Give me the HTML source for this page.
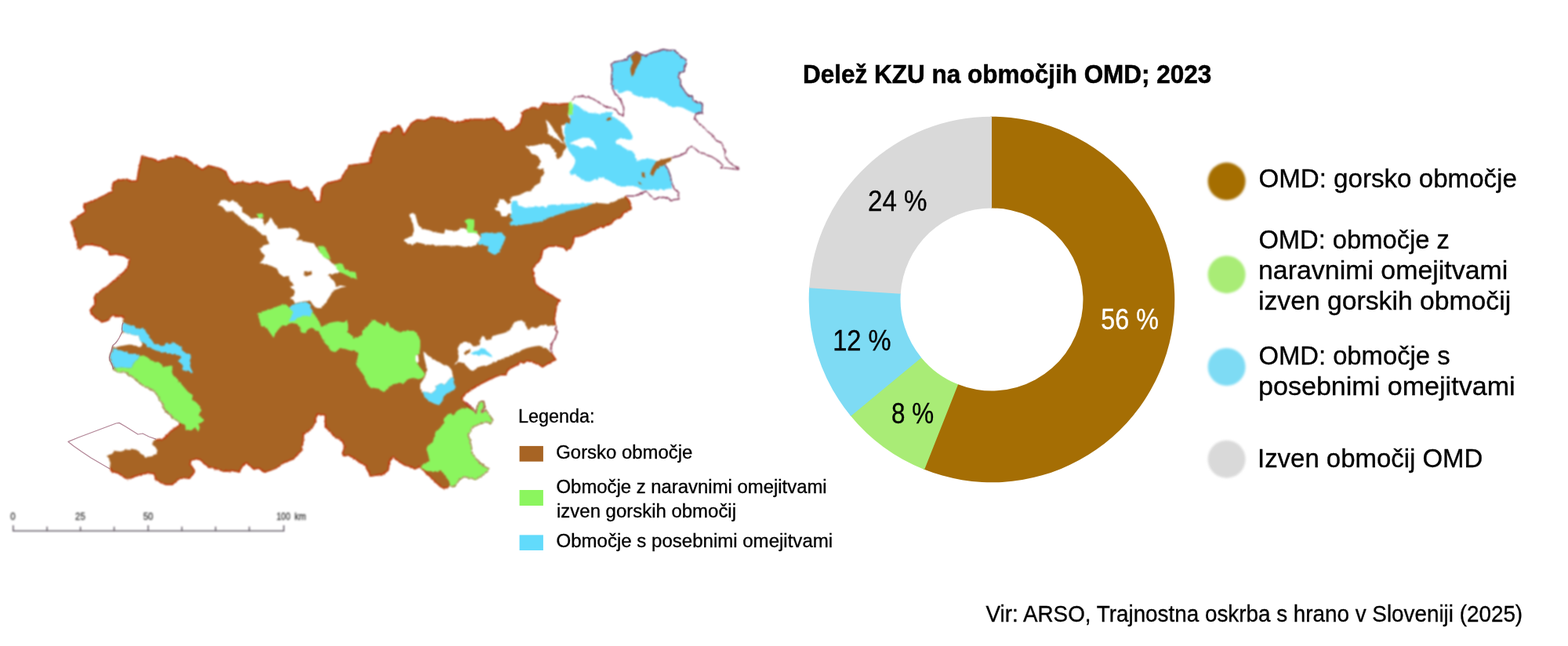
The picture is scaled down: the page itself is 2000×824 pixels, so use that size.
<!DOCTYPE html>
<html lang="sl">
<head>
<meta charset="utf-8">
<title>Delež KZU na območjih OMD; 2023</title>
<style>
html,body{margin:0;padding:0;background:#fff;}
body{width:2000px;height:824px;overflow:hidden;}
svg{display:block;font-family:"Liberation Sans",sans-serif;}
</style>
</head>
<body>
<svg width="2000" height="824" viewBox="0 0 2000 824">
<defs>
<clipPath id="bc"><path d="M89,283.6 100,275 108,270 106.4,259.6 118,256 130,250 142,244 144,232 152,229 162,227.6 166,230.4 174,230 176,218 178,208 180.6,198 190,201 198,202.4 202,205.6 210,202 226,199 236,201 248,209 258,215.6 266,210.4 280,214 288,218 293,228 298,234 308,231 318,234 328,231 340,235 356,231 370,230 373,238 384,242 391,237.6 398,244 403,256 408,256 410,240 416,233 434,229 439,220 445,210 444,210.4 456,209 471,207 474,194 478,184 483,172 488,167 498,169 500,163.6 509,159.6 513,164 515,171 520,164 524,157 532,152 542,153 550,148.6 568,150 574,154 584,155.6 600,151.6 620,151.6 631,150 635,154 641,158 644.4,165.6 654,164.4 662,158 665,150 664.4,143 672,139 679,136.4 687,138 692.4,130.4 704,132 724,131.6 727,130 726,140 725,149 728,152 727,158 720,158 716,161 717,168 719,176 721,184 723,188 719,192 717,198 712,203 710,202 709,194 706,190 700,184 690,184 680,186 670,186 675,191 678,196 686,199 689,205 688,212 684,214.4 692.4,215 694.4,221 690,226 689,233 682,237 678,242 670,245 662,249 652,251 650,256 652.4,258.4 648,260 642,254 637,255 635,262 631,267 638,270 640,276 646,276 649,272 656,272 670,270 690,268 710,266 730,264 750,261 757,259.4 764,259 776,260 784,257 792,253 798,250 802,254 805,260 806,267 802,269 796,272 792,278 784,281 780,286 772,289 764,291 756,294 748,299 740,302 733,302.4 732,310 728,317 722,321 719,316 710,314.4 700,315 693,319 691,328 688,334 683,338 680,344 682,352 683,360 687,366 694,370 700,374 708,378 715,383 714,383 711,390 709,400 708,408 709,415 710,426 708,432 704,438 703,444 704,450 710,459 706,461 700,464 692,469 686,465 678,462 672,461 668,464 664,462 660,466 654,469 648,473 646,479 638,479 630,482 624,485 618,488 610,492 604,496 598,500 592,505 590,508 593,513 598,516 602,520 607,526 609,518 612,512 617,512 618,518 615,526 620,523 624,529 629,536 626,540 620,538 614,540 610,542 604,544 601,550 597,554 599,560 601,568 602,576 606,584 612,590 618,595 624,598 620,603 614,608 608,611 600,610 592,608 586,612 582,618 578,621 574,620 572,622 566,623.6 561,621 556,616 550,610 543,604 538,598 536,596 529,599 524,596 516,594 508,589 501,584 497,590 496,600 490,605 480,607 472,608 469,602 466,595 460,591 452,586 444,581 438,583 436,578 439,570 436,563 428,558 420,551 414,544 414,530 405,529 402,541 396,549 388,553 387,565 385,575 380,581 372,587 362,591 354,597 344,601 337,603 330,598 323,599 319,595 314,591 308,597 306,603 296,601 286,602 276,599 268,597 260,592 255,587 250,586 244,588 243,592 247,597 249,602 245,607 242,611 234,610 226,613 220,619 212,619 204,616 199,613 196,605 190,604 180,606 170,609 163,612.6 156,608 150,604 142,602 140,598 141,589 138,585 136,581 143,579 146,575 154,576 160,574 168,572.6 175,574 180,578 186,583 194,582 199,579 201,575 198,570 194,567 196,562 200,560 208,559 214,553 220,547 228,542 230,539.4 222,534 214,527 208,520 208,516 204,510 200,503 194,497 184,493 176,487 168,480 160,475 152,475 144,471 144.5,471 143.5,467 142,463 140,460 139.5,456 140.5,452 142,448 143,444 144,440.5 147,438 149.5,435 152,431 154,427 156,423 155.5,420 156,415 157,411.5 158,407 156,404 150,404.5 145,403 142,404.5 140,408 136,410 130,411.5 125,408 120,404.5 116,400 114,395 118,391 121,384 120,376 126,372 134,366 142,360 150,353 158,346 163,339 164,331 158,327 148,325 140,326 137,320 128,315 118,313 108,313 102,319 98,316 98,308 94,300 95,300 92,288Z"/></clipPath>
<filter id="mb" x="-5%" y="-5%" width="110%" height="110%" color-interpolation-filters="sRGB"><feTurbulence type="fractalNoise" baseFrequency="0.22" numOctaves="2" seed="7" result="n"/><feDisplacementMap in="SourceGraphic" in2="n" scale="3" xChannelSelector="R" yChannelSelector="G" result="d"/><feGaussianBlur in="d" stdDeviation="0.85"/></filter>
<filter id="ob" x="-5%" y="-5%" width="110%" height="110%" color-interpolation-filters="sRGB"><feTurbulence type="fractalNoise" baseFrequency="0.22" numOctaves="2" seed="7" result="n"/><feDisplacementMap in="SourceGraphic" in2="n" scale="3" xChannelSelector="R" yChannelSelector="G" result="d"/><feGaussianBlur in="d" stdDeviation="0.88"/></filter>
<filter id="ob2" x="-5%" y="-5%" width="110%" height="110%"><feGaussianBlur stdDeviation="0.85"/></filter>
<filter id="cb" x="-20%" y="-20%" width="140%" height="140%"><feGaussianBlur stdDeviation="1.6"/></filter>
<filter id="sbb" filterUnits="userSpaceOnUse" x="0" y="640" width="420" height="50"><feGaussianBlur stdDeviation="0.85"/></filter>
</defs>
<rect width="2000" height="824" fill="#fff"/>
<g id="map" filter="url(#mb)" stroke-linejoin="round">
<path fill="#A76424" d="M89,283.6 100,275 108,270 106.4,259.6 118,256 130,250 142,244 144,232 152,229 162,227.6 166,230.4 174,230 176,218 178,208 180.6,198 190,201 198,202.4 202,205.6 210,202 226,199 236,201 248,209 258,215.6 266,210.4 280,214 288,218 293,228 298,234 308,231 318,234 328,231 340,235 356,231 370,230 373,238 384,242 391,237.6 398,244 403,256 408,256 410,240 416,233 434,229 439,220 445,210 444,210.4 456,209 471,207 474,194 478,184 483,172 488,167 498,169 500,163.6 509,159.6 513,164 515,171 520,164 524,157 532,152 542,153 550,148.6 568,150 574,154 584,155.6 600,151.6 620,151.6 631,150 635,154 641,158 644.4,165.6 654,164.4 662,158 665,150 664.4,143 672,139 679,136.4 687,138 692.4,130.4 704,132 724,131.6 727,130 726,140 725,149 728,152 727,158 720,158 716,161 717,168 719,176 721,184 723,188 719,192 717,198 712,203 710,202 709,194 706,190 700,184 690,184 680,186 670,186 675,191 678,196 686,199 689,205 688,212 684,214.4 692.4,215 694.4,221 690,226 689,233 682,237 678,242 670,245 662,249 652,251 650,256 652.4,258.4 648,260 642,254 637,255 635,262 631,267 638,270 640,276 646,276 649,272 656,272 670,270 690,268 710,266 730,264 750,261 757,259.4 764,259 776,260 784,257 792,253 798,250 802,254 805,260 806,267 802,269 796,272 792,278 784,281 780,286 772,289 764,291 756,294 748,299 740,302 733,302.4 732,310 728,317 722,321 719,316 710,314.4 700,315 693,319 691,328 688,334 683,338 680,344 682,352 683,360 687,366 694,370 700,374 708,378 715,383 714,383 711,390 709,400 708,408 709,415 710,426 708,432 704,438 703,444 704,450 710,459 706,461 700,464 692,469 686,465 678,462 672,461 668,464 664,462 660,466 654,469 648,473 646,479 638,479 630,482 624,485 618,488 610,492 604,496 598,500 592,505 590,508 593,513 598,516 602,520 607,526 609,518 612,512 617,512 618,518 615,526 620,523 624,529 629,536 626,540 620,538 614,540 610,542 604,544 601,550 597,554 599,560 601,568 602,576 606,584 612,590 618,595 624,598 620,603 614,608 608,611 600,610 592,608 586,612 582,618 578,621 574,620 572,622 566,623.6 561,621 556,616 550,610 543,604 538,598 536,596 529,599 524,596 516,594 508,589 501,584 497,590 496,600 490,605 480,607 472,608 469,602 466,595 460,591 452,586 444,581 438,583 436,578 439,570 436,563 428,558 420,551 414,544 414,530 405,529 402,541 396,549 388,553 387,565 385,575 380,581 372,587 362,591 354,597 344,601 337,603 330,598 323,599 319,595 314,591 308,597 306,603 296,601 286,602 276,599 268,597 260,592 255,587 250,586 244,588 243,592 247,597 249,602 245,607 242,611 234,610 226,613 220,619 212,619 204,616 199,613 196,605 190,604 180,606 170,609 163,612.6 156,608 150,604 142,602 140,598 141,589 138,585 136,581 143,579 146,575 154,576 160,574 168,572.6 175,574 180,578 186,583 194,582 199,579 201,575 198,570 194,567 196,562 200,560 208,559 214,553 220,547 228,542 230,539.4 222,534 214,527 208,520 208,516 204,510 200,503 194,497 184,493 176,487 168,480 160,475 152,475 144,471 144.5,471 143.5,467 142,463 140,460 139.5,456 140.5,452 142,448 143,444 144,440.5 147,438 149.5,435 152,431 154,427 156,423 155.5,420 156,415 157,411.5 158,407 156,404 150,404.5 145,403 142,404.5 140,408 136,410 130,411.5 125,408 120,404.5 116,400 114,395 118,391 121,384 120,376 126,372 134,366 142,360 150,353 158,346 163,339 164,331 158,327 148,325 140,326 137,320 128,315 118,313 108,313 102,319 98,316 98,308 94,300 95,300 92,288Z"/>
<path fill="none" stroke="#C0360C" stroke-width="3.4" clip-path="url(#bc)" d="M95,300 92,288 89,283.6 100,275 108,270 106.4,259.6 118,256 130,250 142,244 144,232 152,229 162,227.6 166,230.4 174,230 176,218 178,208 180.6,198 190,201 198,202.4 202,205.6 210,202 226,199 236,201 248,209 258,215.6 266,210.4 280,214 288,218 293,228 298,234 308,231 318,234 328,231 340,235 356,231 370,230 373,238 384,242 391,237.6 398,244 403,256 408,256 410,240 416,233 434,229 439,220 445,210 444,210.4 456,209 471,207 474,194 478,184 483,172 488,167 498,169 500,163.6 509,159.6 513,164 515,171 520,164 524,157 532,152 542,153 550,148.6 568,150 574,154 584,155.6 600,151.6 620,151.6 631,150 635,154 641,158 644.4,165.6 654,164.4 662,158 665,150 664.4,143 672,139 679,136.4 687,138 692.4,130.4 704,132 724,131.6 727,130 M798,250 802,254 805,260 806,267 802,269 796,272 792,278 784,281 780,286 772,289 764,291 756,294 748,299 740,302 733,302.4 732,310 728,317 722,321 719,316 710,314.4 700,315 693,319 691,328 688,334 683,338 680,344 682,352 683,360 687,366 694,370 700,374 708,378 715,383 714,383 711,390 709,400 708,408 709,415 M704,450 710,459 706,461 700,464 692,469 686,465 678,462 672,461 668,464 664,462 660,466 654,469 648,473 646,479 638,479 630,482 624,485 618,488 610,492 604,496 598,500 592,505 590,508 593,513 598,516 602,520 M572,622 566,623.6 561,621 556,616 550,610 543,604 538,598 536,596 529,599 524,596 516,594 508,589 501,584 497,590 496,600 490,605 480,607 472,608 469,602 466,595 460,591 452,586 444,581 438,583 436,578 439,570 436,563 428,558 420,551 414,544 414,530 405,529 402,541 396,549 388,553 387,565 385,575 380,581 372,587 362,591 354,597 344,601 337,603 330,598 323,599 319,595 314,591 308,597 306,603 296,601 286,602 276,599 268,597 260,592 255,587 250,586 244,588 243,592 247,597 249,602 245,607 242,611 234,610 226,613 220,619 212,619 204,616 199,613 196,605 190,604 180,606 170,609 163,612.6 156,608 150,604 142,602 140,598 M199,560.2 208,559 214,553 220,547 228,542 230,539.4 M158,407 156,404 150,404.5 145,403 142,404.5 140,408 136,410 130,411.5 125,408 120,404.5 116,400 114,395 118,391 121,384 120,376 126,372 134,366 142,360 150,353 158,346 163,339 164,331 158,327 148,325 140,326 137,320 128,315 118,313 108,313 102,319 98,316 98,308 94,300 95,300 92,288 89,283.6"/>
<path fill="#fff" d="M278,261 282,256 288,254 292,258 297,255 303,259 308,265 310,271 318,276 320,279 326,278 336,280 337,287 342,283 345,277 348,282 352,288 355,292 364,291 374,291 380,295 382,300 379,305 388,308 398,310 400,310 404,316 408,322 414,328 420,332 426,338 432,344 434,347 426,349 418,351 422,355 427,360 429,366 434,364 442,365.6 434,367 427,370 422,376 418,382 414,388 410,393 404,393 400,390 396,384 392,384 384,385 376,387 375,384 370,380 375,377 375.6,370 369,366 375,364 370,358 368,352 362,353 356,349 354,344 348,340 340,337 331,335.6 335,332 338,326 334,322 331,317 336,313 344,311 347,308 344,312 340,303 332,297 326,292 320,288 314,285 308,280 303,274 296,270 288,269 284,264Z M522,274 526,271 530,275 532,282 534,288 540,292 548,294 558,297 566,298 568,293 576,294 584,295 588,290 594,292 598,296 606,295 610,299 613,303 610,308 608,312 600,315 592,315 584,313 576,313.6 568,313 560,313.6 552,312.4 544,312 536,310 530,309 526,313 520,311 515,306 520,303 526,301 528,294 527,286 524,280Z M540,448 544,452 550,456 556,460 564,464 572,467 576,472 578,481 575,482 572,485 568,490 562,489 557,492 555,498 550,502 544,500 538,499.6 536,496 536,490 540,484 543,478 545,472 543,464 541,456Z M578,466 584,460 585,454 583,446 586,440 592,436 598,436 602,440 604,442 612,440 613,433 615,427 618,430 620,434 626,433 628,429 634,427 642,425 648,423 652,418 656,411 662,409 668,410 671,416 674,420 679,417 684,419 689,415 696,414 702,416 708,415 709,422 710,426 708,432 704,438 703,444 704,450 702,449 696,444 688,441 680,442 672,444 664,447 658,450 652,454 644,456 638,459 632,462 626,464 620,466 614,467 608,469 604,473 600,472 596,468 592,464 588,461 582,464Z M696,152.4 700,156 705,163 710,171 716,179 720.4,184.4 714,180 708,176 701,171.6 696.4,170.4 699.2,169 698,160Z M157,423.5 160,425 166,426.5 172,427.5 177,428 178,432 179,435 181,437.5 181,441 179,443 175,442 170,440 165,439.5 159,440.5 153,441.5 148,443.5 145,443 144,440.5 147,438 149.5,435 152,431 154,427Z"/>
<path fill="#8BF55E" d="M725.6,130 730,129.6 731,138 730,146 725.6,147 725,140Z M405,315 412,313 418,322 422,331 414,329 408,322Z M426,337 436,336 440,343 454,348 455,356 446,353 436,348 430,344Z M327,273 335,272 336,278 330,278Z M592,281 598,279 605,280 605,288 604,294 610,295 610,298 604,297 598,297 595,293 596,287Z M328,400 336,397 346,394 356,390 364,388 372,394 396,396 400,400 406,408 410,417 420,412 430,410 438,411 442,409 444,413 444,420 442,423 448,427 451,432 456,430 462,427 462,422 468,417 472,412 475,407.6 480,410 486,413 491,416 494,410 497,416 500,419 506,422 512,423 520,422 528,422 533,427 536,434 536,442 535,450 531,452 530,458 532,464 536,469 540,474 542,478 539,482 534,484 528,482 522,483 518,486 514,490 508,489 502,490 496,493 494,498 489,500 484,496 478,495 472,494 468,489 466,482 462,476 457,470 454,464 456,457 457,450 452,448 446,447 440,445 434,444 428,449 422,448 419,442 414,437 410,430 407,424 404,422 398,418 392,420 390,425 384,424 383,418 378,413 372,412 366,414 358,417 352,424 349,431 344,424 340,418 333,416 331,408Z M147,469.5 150,469 155,468.5 160,469 164,469.5 168,469 169,466 171,463 174,460 177,457 178,454 182,453.5 187,455 191,458 195,460.5 200,462 204,463 207,466 209,469 214,467 220,466 221,469 220,473 218,474 222,480 228,486 234,493 240,500 246,504 245,509 250,513 255,518 257,524 253,529 256,532 261,536 257,539 252,541 255,545 253,550 249,545 244,549 237,548 236,542 230,539.4 222,534 214,527 208,520 208,516 204,510 200,503 194,497 184,493 176,487 168,480 160,475 152,475 144,471 144.5,471Z M582,525 588,521 596,520 602,523 607,526 609,518 612,512 617,512 618,518 615,526 620,523 624,529 629,536 626,540 620,538 614,540 610,542 604,544 601,550 597,554 599,560 601,568 602,576 606,584 612,590 618,595 624,598 620,603 614,608 608,611 600,610 592,608 586,612 582,618 578,621 574,620 573,614 567,606 562,600 554,602 546,602 538,597 536,595 542,591 548,588 546,580 544,572 546,568 552,564 554,556 556,550 561,546 566,540 566,534 571,529 575,527 578,530 580,528Z"/>
<path fill="#fff" d="M530,454 533,451 534,458 533,464 530,460Z"/>
<path fill="#62DBFB" d="M780,82 784,79 792,77.6 800,76 802,72 808,68 812.4,66 818,70 824,71 832,67 840,65 846,63 854,64.4 860,64 865,69 870,73 875,76 875.6,81 873,85 873,91 867,93 865,98 868,102 868,109 872,114 875,119 879,123 883,122 884,128 890,131 896,132 895.6,144 888,145 886,144.4 882,143 876,140 870,137 864,136 858,137 852,133.6 846,130 840,127 832,124 824,125 816,124 810,121 805,117 800,115.6 794,118 789,119 788,115 783,114 781,112 780,100 781,88Z M731,132 738,135 744,140 752,144 764,145 776,143 782,143 780,148 788,152 798,160 804,168 807,174 806,178 798,178 792,176 786,179 785,182 792,186 800,191 808,193 810,200 812,205 820,203 830,202.4 837,205 848,210 852,216 855,224 857,234 857,240 852,241 844,242 836,242.4 828,242 820,243 814,239 806,237 798,238 790,238 784,235 778,231 770,227 764,226 762,230 758,229 752,232 746,231 740,227 734,223 729,222 726,220 730,215 733,210 734,204 730,198 726,193 723,188 721,180 719.6,172 720,164 722,156 727,158 728,152 725.6,147 730,146 731,138Z M654,256 660,257 662,262 670,265 680,264 690,263 696,265 700,261 710,261 724,260.4 734,260 746,259 756,259 756,260 748,263 740,266 730,268 720,270 718,272 708,275 700,278 692,282 680,285 670,286 660,288 652,287 649,284 655,281 651,276 653,270 651,264Z M613,298 620,296.4 630,297.6 640,297.6 645,302 643,309 640,314 638,320 632,325 626,323 622,320 623,315 618,313 610,312 609,309 613,304Z M370,390 378,387 390,385 396,388 398,396 396,404 388,402 380,406 374,410 369,409 372,402 374,398 370,394Z M157.5,412 160,411.5 163,414 168,415.5 173,417.5 178,419.5 182,419 185,421 187,424.5 189,427 190,430 193,433 195,436 197,438.5 202,440 207,441.5 210,440 212,438 216,439 219,437.5 222,436.5 225,439 228,440.5 231,442 232,446 235,449 239,451 243,452 243.5,456 242,460 243,464 242,467 244,471 246,475 245,476 242,474 239,472 236,473 233,472 234,468 232,465 229,462 226.5,460 229,458 231.5,456 230,454 225,452.5 220,452 214,451 208,449.5 202,448 197,446.5 193,444.5 189,442 186,439 182,437 179,435 178,432 177,428 172,427.5 166,426.5 160,425 157,423 155.5,420 156,415Z M144.5,444.5 148,445 152,446.5 158,448 164,450 168,451.5 172,451 176,452 178,454 177,457 174,460 171,463 169,466 168,469 164,469.5 160,469 155,468.5 150,469 147,469.5 144.5,467 143,463 141,460 140.5,456 141.5,452 143,448Z M578,481 580,488 581,495 576,499 570,502 566,506 564,512 560,517 554,515 548,512 543,508 540,503 538,499.6 544,500 550,502 555,498 557,492 562,489 568,490 572,485 575,482Z M600,451 608,447 614,444 619,445 622,449 627,453 628,456 623,454 618,452 612,453 606,453Z"/>
<path fill="#fff" d="M726,183 734,179 744,175.6 752,176 757,180 760,186 761,191 756,188 750,186 742,189 736,186 730,183.6Z"/>
<path fill="#A76424" d="M804,72 812,66 818,70 817.6,76 814,82 811,88 809,94 806,98 804.4,92 804,87 807,83 806,77Z M837,206 848,202.4 857,200.4 856,205 850,209 844,212 838,215 835,220 833,225 829,221 832,214 835,209Z M818.6,219.6 821.6,220.4 823.6,227 820.6,226 818.6,223Z M813.6,231.6 816.4,232.4 818.6,235.4 815.6,234.8Z M773.6,151 778,149.6 780,151.6 776,154 773.6,153.6Z M387,346.4 392,347.6 397,345.6 398,349.6 394,352.4 389,351.6Z M592,448.4 600,445 599.6,449 594.4,453 592,451.6Z"/>
</g>
<g id="outline" stroke-linejoin="round" fill="none">
<g filter="url(#ob)">
<path stroke="#7A2248" stroke-width="1.4" d="M729,128 734,124 742,122.4 750,123.6 758,127 764,131 770,135 776,137 782,137.6 786,140 789,145 795,148 795.6,138 793,130 789,124 784,119 781,112 780,100 781,88 779.4,82 784,79 792,77.6 800,76 802,72 808,68 812.4,66 818,70 824,71 832,67 840,65 846,63 854,64.4 860,64 865,69 870,73 875,76 875.6,81 873,85 873,91 867,93 865,98 868,102 868,109 872,114 875,119 879,123 883,122 884,128 890,131 896,132 895.6,144 888,145 886,150 890,156 896,161 902,167 908,172 913,179 920,182 923,188 925,196 925,199 928,205 934,210 942,214.4 943,216 936,215.6 928,214.4 920,214.4 921,210 916,205 908,200 902,198 898,195.6 892,194.4 887,190 883,186.4 878,189 874,195 866,199 858,201 857,201 M848,210 852,216 855,224 857,234 860,241 866,246 866,254 856,255 848,252 842,251 836,254 830,250 824,244 818,246 810,250 802,250 799,250"/>
<path stroke="#8E2A46" stroke-width="1.6" d="M709,415 710,426 708,432 704,438 703,444 704,450"/>
<path stroke="#A8303A" stroke-width="1.6" d="M593,513 598,516 602,520 607,526 609,518 612,512 617,512 618,518 615,526 620,523"/>
<path stroke="#A8704A" stroke-width="1.2" d="M602,520 607,526 609,518 612,512 617,512 618,518 615,526 620,523 624,529 629,536 626,540 620,538 614,540 610,542 604,544 601,550 597,554 599,560 601,568 602,576 606,584 612,590 618,595 624,598 620,603 614,608 608,611 600,610 592,608 586,612 582,618 578,621 574,620 M144,471 152,475 160,475 168,480 176,487 184,493 194,497 200,503 204,510 208,516 208,520 214,527 222,534 230,539.4"/>
</g>
<path stroke="#94566E" stroke-opacity="0.72" stroke-width="1.25" d="M199,560.2 190,557 182,553 176,554 168,549 160,544 152,539.4 148,540 132,546 116,552 100,558 87,563.4 94,569 104,576 116,584 128,591 140,598 M157,411.5 156,415 155.5,420 156,423 154,427 152,431 149.5,435 147,438 144,440.5 143,444 142,448 140.5,452 139.5,456 140,460 142,463 143.5,467 144.5,471"/>
</g>
<g id="scalebar" filter="url(#sbb)">
<path d="M16.8,670 V677.2 H362 V670" fill="none" stroke="#5e5662" stroke-width="1.5"/><path d="M60,671.8 V677.2" stroke="#5e5662" stroke-width="1.5"/><path d="M102.6,671.8 V677.2" stroke="#5e5662" stroke-width="1.5"/><path d="M145.6,671.8 V677.2" stroke="#5e5662" stroke-width="1.5"/><path d="M189,670 V677.2" stroke="#5e5662" stroke-width="1.5"/><path d="M232,671.8 V677.2" stroke="#5e5662" stroke-width="1.5"/><path d="M275,671.8 V677.2" stroke="#5e5662" stroke-width="1.5"/><path d="M318,671.8 V677.2" stroke="#5e5662" stroke-width="1.5"/>
<g font-size="13.4" fill="#2e2e2e" stroke="#2e2e2e" stroke-width="0.3" text-anchor="middle">
<text x="16.4" y="662.6" textLength="6.4" lengthAdjust="spacingAndGlyphs">0</text>
<text x="102.4" y="662.6" textLength="12.6" lengthAdjust="spacingAndGlyphs">25</text>
<text x="189" y="662.6" textLength="12.6" lengthAdjust="spacingAndGlyphs">50</text>
<text x="361.5" y="662.6" textLength="17.6" lengthAdjust="spacingAndGlyphs">100</text>
<text x="383" y="662.6" font-size="12" textLength="14.5" lengthAdjust="spacingAndGlyphs">km</text>
</g>
</g>
<g id="maplegend">
<rect x="662.6" y="568.9" width="30.3" height="19.8" fill="#A76424"/>
<rect x="662.6" y="625" width="30.3" height="20" fill="#8BF55E"/>
<rect x="662.6" y="682.4" width="30.3" height="19.6" fill="#62DBFB"/>
</g>
<g id="donut">
<path fill="#A56E04" d="M1263.37,148.71 A233.3,233.3 0 1 1 1177.60,598.31 L1221.36,490.02 A116.5,116.5 0 1 0 1264.19,265.50Z"/>
<path fill="#A9EC76" d="M1179.12,598.92 A233.3,233.3 0 0 1 1084.21,529.45 L1174.72,455.63 A116.5,116.5 0 0 0 1222.11,490.32Z"/>
<path fill="#7EDBF4" d="M1085.24,530.71 A233.3,233.3 0 0 1 1032.27,365.73 L1148.78,373.87 A116.5,116.5 0 0 0 1175.24,456.26Z"/>
<path fill="#D9D9D9" d="M1032.16,367.35 A233.3,233.3 0 0 1 1265.00,148.70 L1265.00,265.50 A116.5,116.5 0 0 0 1148.73,374.68Z"/>
</g>
<g id="legend" filter="url(#cb)">
<circle cx="1564.6" cy="231.3" r="24" fill="#A56E04"/>
<circle cx="1564.6" cy="350.2" r="24" fill="#A9EC76"/>
<circle cx="1564.6" cy="468" r="24" fill="#7EDBF4"/>
<circle cx="1564.6" cy="585.7" r="24" fill="#D9D9D9"/>
</g>
<g id="labels">
<text x="1024.00" y="105.6" font-size="33.8" font-weight="bold" fill="#000" stroke="#000" stroke-width="0.55" textLength="521.38" lengthAdjust="spacingAndGlyphs">Delež KZU na območjih OMD; 2023</text>
<text x="1605.45" y="239.0" font-size="33.8" font-weight="normal" fill="#000" stroke="#000" stroke-width="0.35" textLength="329.45" lengthAdjust="spacingAndGlyphs">OMD: gorsko območje</text>
<text x="1605.39" y="316.8" font-size="33.8" font-weight="normal" fill="#000" stroke="#000" stroke-width="0.35" textLength="243.57" lengthAdjust="spacingAndGlyphs">OMD: območje z</text>
<text x="1605.00" y="355.9" font-size="33.8" font-weight="normal" fill="#000" stroke="#000" stroke-width="0.35" textLength="318.37" lengthAdjust="spacingAndGlyphs">naravnimi omejitvami</text>
<text x="1605.00" y="394.9" font-size="33.8" font-weight="normal" fill="#000" stroke="#000" stroke-width="0.35" textLength="322.15" lengthAdjust="spacingAndGlyphs">izven gorskih območij</text>
<text x="1605.46" y="464.6" font-size="33.8" font-weight="normal" fill="#000" stroke="#000" stroke-width="0.35" textLength="244.08" lengthAdjust="spacingAndGlyphs">OMD: območje s</text>
<text x="1605.00" y="503.9" font-size="33.8" font-weight="normal" fill="#000" stroke="#000" stroke-width="0.35" textLength="327.60" lengthAdjust="spacingAndGlyphs">posebnimi omejitvami</text>
<text x="1604.00" y="595.9" font-size="33.8" font-weight="normal" fill="#000" stroke="#000" stroke-width="0.35" textLength="287.35" lengthAdjust="spacingAndGlyphs">Izven območij OMD</text>
<text x="1107.01" y="269.0" font-size="36.6" font-weight="normal" fill="#000" stroke="#000" stroke-width="0.35" textLength="75.57" lengthAdjust="spacingAndGlyphs">24 %</text>
<text x="1404.31" y="419.9" font-size="36.6" font-weight="normal" fill="#fff" stroke="#fff" stroke-width="0.35" textLength="73.56" lengthAdjust="spacingAndGlyphs">56 %</text>
<text x="1062.21" y="446.5" font-size="36.6" font-weight="normal" fill="#000" stroke="#000" stroke-width="0.35" textLength="74.38" lengthAdjust="spacingAndGlyphs">12 %</text>
<text x="1137.09" y="540.4" font-size="36.6" font-weight="normal" fill="#000" stroke="#000" stroke-width="0.35" textLength="54.02" lengthAdjust="spacingAndGlyphs">8 %</text>
<text x="1257.52" y="792.8" font-size="29.1" font-weight="normal" fill="#000" stroke="#000" stroke-width="0.35" textLength="684.61" lengthAdjust="spacingAndGlyphs">Vir: ARSO, Trajnostna oskrba s hrano v Sloveniji (2025)</text>
<text x="660.91" y="539.4" font-size="24.7" font-weight="normal" fill="#000" stroke="#000" stroke-width="0.35" textLength="97.56" lengthAdjust="spacingAndGlyphs">Legenda:</text>
<text x="709.27" y="584.9" font-size="24.7" font-weight="normal" fill="#000" stroke="#000" stroke-width="0.35" textLength="174.03" lengthAdjust="spacingAndGlyphs">Gorsko območje</text>
<text x="709.52" y="629.0" font-size="24.7" font-weight="normal" fill="#000" stroke="#000" stroke-width="0.35" textLength="345.11" lengthAdjust="spacingAndGlyphs">Območje z naravnimi omejitvami</text>
<text x="710.04" y="660.2" font-size="24.7" font-weight="normal" fill="#000" stroke="#000" stroke-width="0.35" textLength="228.98" lengthAdjust="spacingAndGlyphs">izven gorskih območij</text>
<text x="709.49" y="697.6" font-size="24.7" font-weight="normal" fill="#000" stroke="#000" stroke-width="0.35" textLength="352.63" lengthAdjust="spacingAndGlyphs">Območje s posebnimi omejitvami</text>
</g>
</svg>
</body>
</html>
